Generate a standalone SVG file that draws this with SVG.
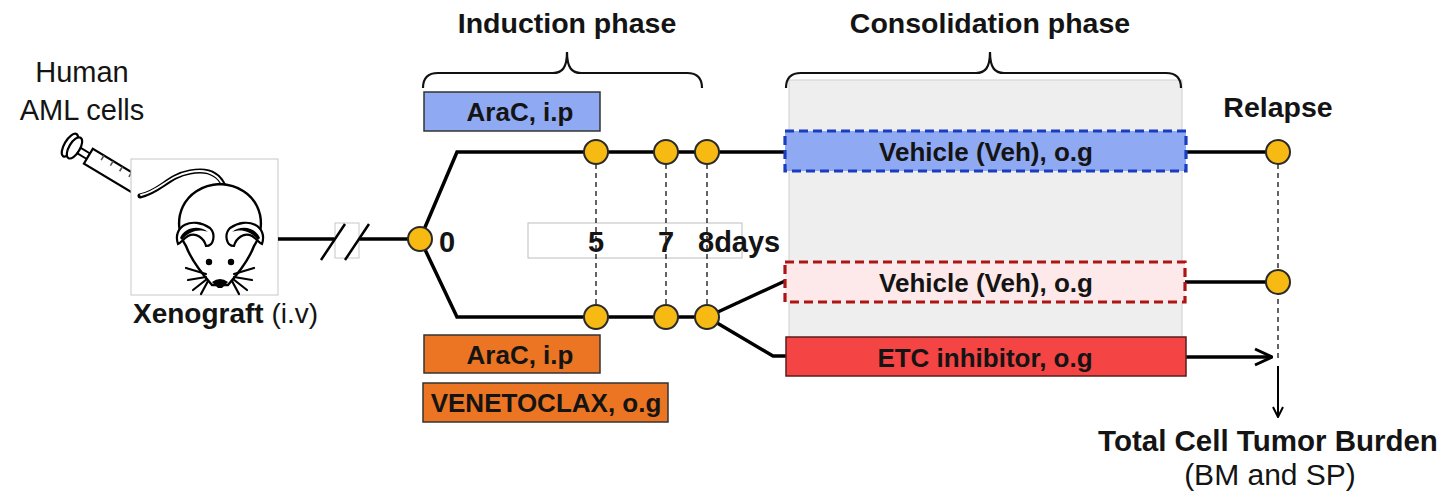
<svg xmlns="http://www.w3.org/2000/svg" width="1445" height="501" viewBox="0 0 1445 501">
  <style>
    text { font-family: "Liberation Sans", Arial, sans-serif; fill: #141414; }
    .b { font-weight: bold; }
    .title { font-size: 28.5px; font-weight: bold; text-anchor: middle; }
    .lbl { font-size: 26px; font-weight: bold; text-anchor: middle; }
    .reg { font-size: 29px; text-anchor: middle; }
    .day { font-size: 29px; font-weight: bold; }
    .wire { fill: none; stroke: #000; stroke-width: 3.5; }
    .guide { fill: none; stroke: #222; stroke-width: 1.4; stroke-dasharray: 5 4; }
    .brace { fill: none; stroke: #111; stroke-width: 2.2; }
    .dot { fill: #F6BA12; stroke: #2a2a2a; stroke-width: 2; }
    .ink { fill: none; stroke: #000; stroke-width: 2.2; stroke-linecap: round; stroke-linejoin: round; }
  </style>
  <defs>
    <marker id="vhead" viewBox="0 0 12 12" refX="11" refY="6" markerWidth="12" markerHeight="12" markerUnits="userSpaceOnUse" orient="auto">
      <path d="M1,1 L11,6 L1,11" fill="none" stroke="#000" stroke-width="2"/>
    </marker>
    <marker id="vhead2" viewBox="0 0 20 20" refX="19" refY="10" markerWidth="20" markerHeight="20" markerUnits="userSpaceOnUse" orient="auto">
      <path d="M2,2 L19,10 L2,18" fill="none" stroke="#000" stroke-width="3"/>
    </marker>
  </defs>

  <rect width="1445" height="501" fill="#fff"/>

  <!-- injection and xenograft -->
  <g id="injection">
    <text class="reg" x="82" y="82">Human</text>
    <text class="reg" x="82" y="120">AML cells</text>
    <g transform="translate(68,144) rotate(31) scale(1.08)">
      <ellipse cx="2" cy="0" rx="5" ry="12" fill="#fff" stroke="#000" stroke-width="2"/>
      <ellipse cx="7" cy="0" rx="5" ry="11" fill="#fff" stroke="#000" stroke-width="2"/>
      <rect x="12" y="-3" width="10" height="6" fill="#fff" stroke="#000" stroke-width="1.8"/>
      <rect x="22" y="-8" width="52" height="16" fill="#fff" stroke="#000" stroke-width="2"/>
      <path d="M34,-8 v5 M44,-8 v5 M54,-8 v5 M64,-8 v5" stroke="#555" stroke-width="1.5"/>
      <path d="M74,-4 L82,-2 L82,2 L74,4 Z" fill="#fff" stroke="#000" stroke-width="1.8"/>
      <path d="M82,0 L92,0" stroke="#000" stroke-width="1.6"/>
    </g>
  </g>

  <g id="mouse">
    <rect x="131" y="159" width="147" height="136" fill="#fff" stroke="#c8c8c8" stroke-width="1"/>
    <!-- tail -->
    <path d="M140,196 C160,192 168,176 190,172 C205,169 218,172 224,186" fill="none" stroke="#000" stroke-width="5" stroke-linecap="round"/>
    <path d="M141,195 C160,191 168,176 190,172 C205,169 217,173 223,185" fill="none" stroke="#fff" stroke-width="1.8" stroke-linecap="round"/>
    <!-- head -->
    <path d="M186,246 C170,222 182,186 220,184 C258,186 270,222 254,246 C248,262 236,276 228,285 L212,285 C204,276 192,262 186,246 Z" fill="#fff" stroke="#000" stroke-width="2.4"/>
    <!-- ears -->
    <path d="M178,244 C172,226 192,216 210,228 C216,234 214,246 206,246 C204,238 196,232 188,236 C183,239 181,243 178,244 Z" fill="#fff" stroke="#000" stroke-width="2.2"/>
    <path d="M180,238 C184,228 198,224 208,232 C200,229 190,230 182,240 Z" fill="#000"/>
    <path d="M262,244 C268,226 248,216 230,228 C224,234 226,246 234,246 C236,238 244,232 252,236 C257,239 259,243 262,244 Z" fill="#fff" stroke="#000" stroke-width="2.2"/>
    <path d="M260,238 C256,228 242,224 232,232 C240,229 250,230 258,240 Z" fill="#000"/>
    <!-- eyes and nose -->
    <circle cx="209" cy="262" r="3.2" fill="#000"/>
    <circle cx="231" cy="262" r="3.2" fill="#000"/>
    <path d="M212,282 Q220,276 228,282 L222,288 L218,288 Z" fill="#000"/>
    <!-- whiskers -->
    <path class="ink" d="M206,274 L186,268 M206,277 L188,280 M207,279 L193,290 M208,281 L201,294" stroke-width="1.4"/>
    <path class="ink" d="M234,274 L254,268 M234,277 L252,280 M233,279 L247,290 M232,281 L239,294" stroke-width="1.4"/>
    <text x="133" y="323" style="font-size:28px"><tspan class="b">Xenograft</tspan> (i.v)</text>
  </g>

  <!-- induction phase -->
  <g id="induction">
    <text class="title" x="567" y="33">Induction phase</text>
    <path class="brace" d="M423,88 Q423,73 438,73 L553,73 C562,73 567,68 567,52 C567,68 572,73 581,73 L687,73 Q702,73 702,88"/>
  </g>

  <g id="arac-top">
    <rect x="424" y="92" width="176" height="39" fill="#8FAAF3" stroke="#333" stroke-width="1.5"/>
    <text class="lbl" x="520" y="121">AraC, i.p</text>
  </g>

  <g id="arac-bottom">
    <rect x="424" y="335" width="176" height="38" fill="#EC7523" stroke="#333" stroke-width="1.5"/>
    <text class="lbl" x="520" y="364">AraC, i.p</text>
  </g>

  <g id="venetoclax">
    <rect x="423" y="383" width="245" height="39" fill="#EC7523" stroke="#333" stroke-width="1.5"/>
    <text class="lbl" x="546" y="412">VENETOCLAX, o.g</text>
  </g>

  <!-- consolidation phase -->
  <g id="consolidation">
    <rect x="789" y="80" width="393" height="258" fill="#EEEEEE" stroke="#cfcfcf" stroke-width="1"/>
    <text class="title" x="990" y="33">Consolidation phase</text>
    <path class="brace" d="M786,88 Q786,73 801,73 L976,73 C985,73 990,68 990,52 C990,68 995,73 1004,73 L1166,73 Q1181,73 1181,88"/>
  </g>

  <g id="day-axis">
    <rect x="528" y="223" width="214" height="35" fill="#fff" stroke="#bdbdbd" stroke-width="1"/>
  </g>

  <!-- connectors -->
  <g id="connectors">
    <path class="wire" d="M278,239 L420,239"/>
    <rect x="335" y="223" width="24" height="35" fill="#fff" stroke="#c8c8c8" stroke-width="1"/>
    <path d="M321,260 L345,224 M345,260 L369,224" stroke="#000" stroke-width="2.5"/>
    <path class="wire" d="M420,239 L457,152 L785,152"/>
    <path class="wire" d="M420,239 L457,317 L707,317"/>
    <path class="wire" d="M707,317 L785,281"/>
    <path class="wire" d="M707,317 L773,356 L787,356"/>
    <path class="wire" d="M1186,152 L1278,152"/>
    <path class="wire" d="M1185,282 L1278,282"/>
    <path class="wire" d="M1186,357 L1272,357" marker-end="url(#vhead2)"/>
    <path class="guide" d="M596,164 V305 M666,164 V305 M707,164 V305"/>
    <path class="guide" d="M1278,164 V358"/>
    <path d="M1278,366 L1278,417" fill="none" stroke="#000" stroke-width="2" marker-end="url(#vhead)"/>
  </g>

  <g id="day-labels">
    <text class="day" x="439" y="252">0</text>
    <text class="day" x="596" y="252" text-anchor="middle">5</text>
    <text class="day" x="666" y="252" text-anchor="middle">7</text>
    <text class="day" x="698" y="252">8days</text>
  </g>

  <g id="veh-blue">
    <rect x="785" y="131" width="401" height="40" fill="#8FAAF3" stroke="#1A3DC0" stroke-width="3.2" stroke-dasharray="9 5"/>
    <text class="lbl" x="986" y="161">Vehicle (Veh), o.g</text>
  </g>

  <g id="veh-red">
    <rect x="785" y="262" width="400" height="40" fill="#FDE9E9" stroke="#AD1414" stroke-width="3.2" stroke-dasharray="9 5"/>
    <text class="lbl" x="986" y="292">Vehicle (Veh), o.g</text>
  </g>

  <g id="etc">
    <rect x="786" y="337" width="400" height="39" fill="#F44444" stroke="#5a1c1c" stroke-width="1.5"/>
    <text class="lbl" x="985" y="367">ETC inhibitor, o.g</text>
  </g>

  <!-- timepoints -->
  <g id="timepoints">
    <circle class="dot" cx="420" cy="239" r="12"/>
    <circle class="dot" cx="596" cy="152" r="12"/>
    <circle class="dot" cx="666" cy="152" r="12"/>
    <circle class="dot" cx="707" cy="152" r="12"/>
    <circle class="dot" cx="596" cy="317" r="12"/>
    <circle class="dot" cx="666" cy="317" r="12"/>
    <circle class="dot" cx="707" cy="317" r="12"/>
    <circle class="dot" cx="1278" cy="152" r="12"/>
    <circle class="dot" cx="1278" cy="282" r="12"/>
  </g>

  <g id="relapse">
    <text class="title" x="1278" y="117">Relapse</text>
  </g>

  <g id="readout">
    <text class="title" x="1268" y="451" style="font-size:29.5px">Total Cell Tumor Burden</text>
    <text class="reg" x="1270" y="485" style="font-size:30px">(BM and SP)</text>
  </g>
</svg>
